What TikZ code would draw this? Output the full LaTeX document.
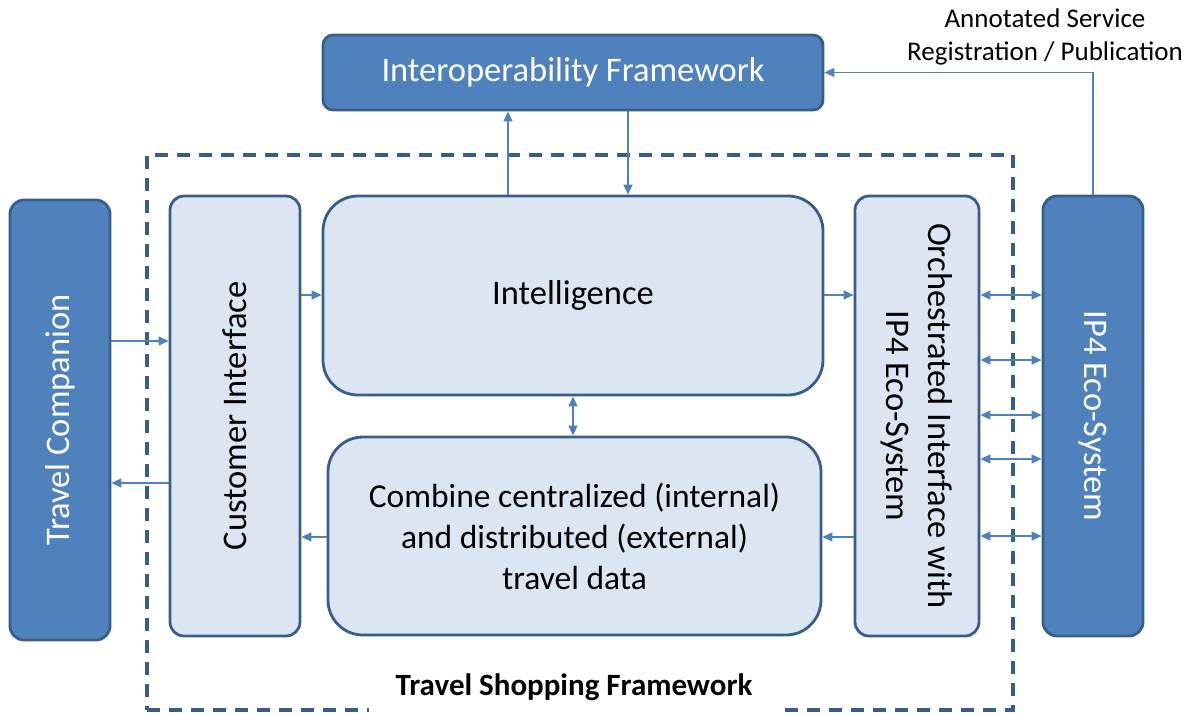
\documentclass[tikz,border=0pt]{standalone}
\usepackage{fontspec}
\setmainfont{Carlito}
\usetikzlibrary{arrows.meta,calc}
\definecolor{midblue}{HTML}{4F81BD}
\definecolor{darkblue}{HTML}{385D8A}
\definecolor{lightfill}{HTML}{DCE6F2}
\begin{document}
\begin{tikzpicture}[x=1pt,y=-1pt,
  darkbox/.style={draw=darkblue,fill=midblue,line width=2.8pt,text=white,inner sep=0pt},
  lightbox/.style={draw=darkblue,fill=lightfill,line width=2.8pt,text=black,inner sep=0pt},
  arr/.style={draw=midblue,line width=1.3pt,-{Triangle[length=10pt,width=9pt]}},
  darr/.style={draw=midblue,line width=1.3pt,{Triangle[length=10pt,width=9pt]}-{Triangle[length=10pt,width=9pt]}},
  bigtxt/.style={font=\fontsize{34.5}{40}\selectfont},
  midtxt/.style={font=\fontsize{33.5}{41}\selectfont},
]
\useasboundingbox (0,0) rectangle (1187,713);
% dashed frame
\node[draw=darkblue,line width=3.5pt,dash pattern=on 13pt off 9pt,minimum width=866pt,minimum height=555pt,inner sep=0pt] (tsf) at (580,432.5) {};
\node[fill=white,minimum width=416pt,minimum height=60pt,inner sep=0pt,anchor=south] (tsflabel) at (577,716) {};
\node[font=\bfseries\fontsize{31}{36}\selectfont] (tsftext) at (574,687) {Travel Shopping Framework};
% boxes
\node[darkbox,rounded corners=10pt,minimum width=500pt,minimum height=75pt,bigtxt] (interop) at (573,72.5) {Interoperability Framework};
\node[darkbox,rounded corners=14pt,minimum width=100pt,minimum height=440pt] (tc) at (60,420) {};
\node[rotate=90,text=white,bigtxt] (tctext) at (tc.center) {Travel Companion};
\node[lightbox,rounded corners=14pt,minimum width=130pt,minimum height=440pt] (ci) at (235,416) {};
\node[rotate=90,bigtxt] (citext) at (ci.center) {Customer Interface};
\node[lightbox,rounded corners=35pt,minimum width=500pt,minimum height=199pt,bigtxt] (intel) at (573,295.5) {Intelligence};
\node[lightbox,rounded corners=35pt,minimum width=493pt,minimum height=198pt,midtxt,align=center] (comb) at (574.5,536) {Combine centralized (internal)\\and distributed (external)\\travel data};
\node[lightbox,rounded corners=14pt,minimum width=124pt,minimum height=440pt] (orch) at (917,416) {};
\node[rotate=-90,font=\fontsize{34.5}{42}\selectfont,align=center] (orchtext) at (orch.center) {Orchestrated Interface with\\IP4 Eco-System};
\node[darkbox,rounded corners=14pt,minimum width=100pt,minimum height=440pt] (ip4) at (1093,416) {};
\node[rotate=-90,text=white,bigtxt] (ip4text) at (ip4.center) {IP4 Eco-System};
\node[font=\fontsize{27}{33}\selectfont,align=center] (annot) at (1045,37) {Annotated Service\\Registration / Publication};
% helper coordinates
\coordinate (xa) at (508,0);
\coordinate (xb) at (628,0);
\coordinate (xc) at (573,0);
\coordinate (ya) at (0,341);
\coordinate (yb) at (0,483);
\coordinate (yc) at (0,295);
\coordinate (yd) at (0,537);
\coordinate (y1) at (0,295);
\coordinate (y2) at (0,360);
\coordinate (y3) at (0,415);
\coordinate (y4) at (0,459);
\coordinate (y5) at (0,536);
% connectors
\draw[arr] (intel.north -| xa) -- (interop.south -| xa);
\draw[arr] (interop.south -| xb) -- (intel.north -| xb);
\draw[arr] (ip4.north) |- (interop.east);
\draw[arr] (tc.east |- ya) -- (ci.west |- ya);
\draw[arr] (ci.west |- yb) -- (tc.east |- yb);
\draw[arr] (ci.east |- yc) -- (intel.west |- yc);
\draw[arr] (intel.east |- yc) -- (orch.west |- yc);
\draw[darr] (intel.south -| xc) -- (comb.north -| xc);
\draw[arr] (orch.west |- yd) -- (comb.east |- yd);
\draw[arr] (comb.west |- yd) -- (ci.east |- yd);
\foreach \y in {y1,y2,y3,y4,y5} {
  \draw[darr] (orch.east |- \y) -- (ip4.west |- \y);
}
\end{tikzpicture}
\end{document}
